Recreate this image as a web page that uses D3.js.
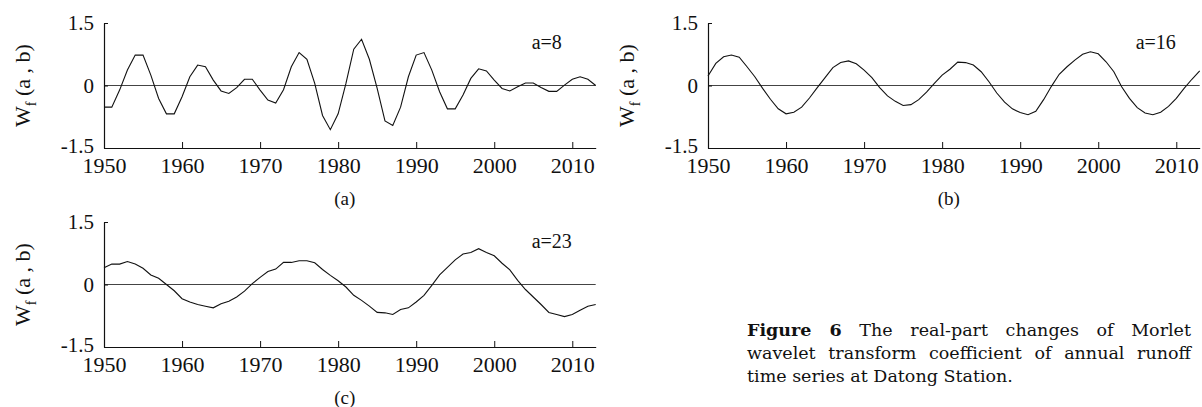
<!DOCTYPE html>
<html>
<head>
<meta charset="utf-8">
<title>Morlet wavelet coefficients - Datong Station</title>
<script src="https://cdn.jsdelivr.net/npm/d3@7"></script>
<style>
  body { margin: 0; background: #fff; }
  svg text { font-family: "Liberation Serif", "Times New Roman", serif; fill: #111; }
  .caption text { font-family: "DejaVu Serif", Georgia, serif; }
</style>
</head>
<body>
<svg id="fig" width="1202" height="407"></svg>
<script>
// years on the x axis, one coefficient per year
var years = d3.range(1950, 2014);
var xTicks = [1950, 1960, 1970, 1980, 1990, 2000, 2010];
var yTicks = [-1.5, 0, 1.5];

// real part of the Morlet coefficient
var wa8 = [-0.52,-0.52,-0.11,0.37,0.73,0.73,0.25,-0.31,-0.68,-0.68,
           -0.27,0.21,0.49,0.45,0.13,-0.13,-0.19,-0.05,0.15,0.15,
           -0.11,-0.35,-0.42,-0.10,0.45,0.79,0.63,0.05,-0.72,-1.06,
           -0.68,0.05,0.87,1.11,0.63,-0.07,-0.85,-0.96,-0.52,0.21,
           0.73,0.79,0.37,-0.15,-0.56,-0.56,-0.23,0.17,0.40,0.35,
           0.13,-0.07,-0.13,-0.03,0.06,0.06,-0.05,-0.14,-0.14,0.01,
           0.15,0.21,0.15,0.00];
var wa16 = [0.23,0.53,0.69,0.73,0.68,0.45,0.21,-0.07,-0.33,-0.56,
            -0.68,-0.64,-0.52,-0.30,-0.05,0.19,0.43,0.55,0.59,0.52,
            0.37,0.19,-0.05,-0.25,-0.38,-0.48,-0.46,-0.34,-0.16,0.05,
            0.25,0.39,0.56,0.55,0.49,0.33,0.09,-0.18,-0.40,-0.56,
            -0.65,-0.70,-0.62,-0.34,-0.02,0.27,0.45,0.61,0.75,0.81,
            0.76,0.57,0.33,-0.03,-0.31,-0.53,-0.66,-0.70,-0.64,-0.50,
            -0.31,-0.07,0.15,0.35];
var wa23 = [0.40,0.49,0.49,0.55,0.49,0.39,0.23,0.15,0.00,-0.15,
            -0.34,-0.42,-0.48,-0.52,-0.56,-0.46,-0.40,-0.30,-0.16,0.02,
            0.17,0.31,0.37,0.53,0.53,0.57,0.57,0.52,0.36,0.22,
            0.09,-0.06,-0.26,-0.38,-0.52,-0.67,-0.68,-0.72,-0.60,-0.56,
            -0.42,-0.26,-0.02,0.23,0.41,0.59,0.73,0.77,0.86,0.77,
            0.69,0.51,0.35,0.10,-0.12,-0.30,-0.48,-0.67,-0.72,-0.77,
            -0.72,-0.62,-0.52,-0.48];

var scaleLabels = ["a=8", "a=16", "a=23"];
var panelLabels = ["(a)", "(b)", "(c)"];

var svg = d3.select("#fig");

// where each small plot sits on the page
var panels = [
  {vals: wa8,  left: 104, top: 23},
  {vals: wa16, left: 708, top: 23},
  {vals: wa23, left: 104, top: 222}
];
var W = 491.7, H = 125;

panels.forEach(function (p, i) {
  var g = svg.append("g").attr("transform", "translate(" + p.left + "," + p.top + ")");
  var x = d3.scaleLinear().domain([1950, 2013]).range([0, W]);
  var y = d3.scaleLinear().domain([-1.5, 1.5]).range([H, 0]);

  // zero line
  g.append("line")
    .attr("x1", 0).attr("x2", W)
    .attr("y1", y(0)).attr("y2", y(0))
    .attr("stroke", "#444").attr("stroke-width", 1);

  // x axis, ticks pointing up into the plot
  var xa = g.append("g").attr("transform", "translate(0," + H + ")")
    .call(d3.axisBottom(x).tickValues(xTicks).tickSizeInner(-6).tickSizeOuter(0)
      .tickFormat(d3.format("d")).tickPadding(5));
  xa.select(".domain").attr("stroke", "#111").attr("stroke-width", 1.2);
  xa.selectAll(".tick line").attr("stroke", "#111");
  xa.selectAll(".tick text")
    .attr("font-size", 22).attr("fill", "#111")
    .attr("font-family", "Liberation Serif")
    .attr("dy", "0.9em");
  xa.selectAll(".tick").filter(function (d) { return d === 1950; })
    .select("line").remove();

  // y axis
  var ya = g.append("g")
    .call(d3.axisLeft(y).tickValues(yTicks).tickSizeInner(-4).tickSizeOuter(0)
      .tickFormat(function (d) { return d === 0 ? "0" : String(d); }).tickPadding(10));
  ya.select(".domain").attr("stroke", "#111").attr("stroke-width", 1.2);
  ya.selectAll(".tick line").attr("stroke", "#111");
  ya.selectAll(".tick text")
    .attr("font-size", 21).attr("fill", "#111")
    .attr("font-family", "Liberation Serif")
    .attr("dy", function (d) { return d === -1.5 ? "0.2em" : "0.32em"; });

  // y title  W_f (a , b)
  var t = g.append("text")
    .attr("transform", "translate(-74," + (H / 2) + ") rotate(-90)")
    .attr("text-anchor", "middle")
    .attr("font-size", 22);
  t.append("tspan").text("W");
  t.append("tspan").attr("font-size", 14).attr("dy", 6).text("f");
  t.append("tspan").attr("dy", -6).text(" (a , b)");

  // the curve
  var line = d3.line()
    .x(function (d, k) { return x(years[k]); })
    .y(function (d) { return y(d); });
  g.append("path")
    .datum(p.vals)
    .attr("d", line)
    .attr("fill", "none")
    .attr("stroke", "#111")
    .attr("stroke-width", 1.1);

  g.append("text")
    .attr("x", W - 64).attr("y", 26)
    .attr("font-size", 20)
    .text(scaleLabels[i]);

  g.append("text")
    .attr("x", W / 2 - 5).attr("y", H + 57)
    .attr("text-anchor", "middle")
    .attr("font-size", 19)
    .text(panelLabels[i]);
});

// figure caption, justified by stretching the word gaps
function justify(sel, width) {
  var n = sel.node();
  var spaces = (n.textContent.match(/ /g) || []).length;
  var extra = width - n.getComputedTextLength();
  if (spaces > 0) sel.attr("word-spacing", extra / spaces);
}
var cap = svg.append("g").attr("class", "caption");
var capX = 747, capW = 444;
var l1 = cap.append("text").attr("x", capX).attr("y", 336).attr("font-size", 17.5);
l1.append("tspan").attr("font-weight", "bold").text("Figure 6");
l1.append("tspan").text(" The real-part changes of Morlet");
justify(l1, capW);
var l2 = cap.append("text").attr("x", capX).attr("y", 359).attr("font-size", 17.5)
  .text("wavelet transform coefficient of annual runoff");
justify(l2, capW);
cap.append("text").attr("x", capX).attr("y", 382).attr("font-size", 17.5)
  .text("time series at Datong Station.");
</script>
</body>
</html>
